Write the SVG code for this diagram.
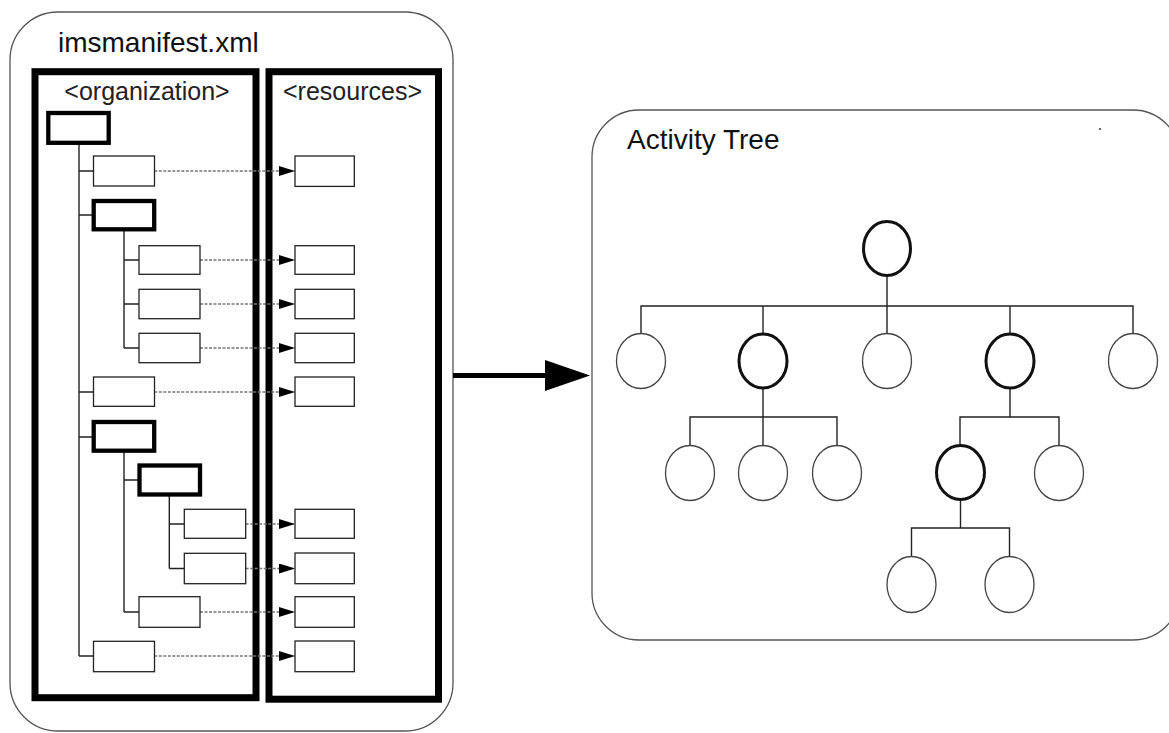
<svg xmlns="http://www.w3.org/2000/svg" width="1169" height="733" viewBox="0 0 1169 733">
<style>
  .outer{fill:#fff;stroke:#555;stroke-width:1.3}
  .panel{fill:none;stroke:#000;stroke-width:7}
  .title{font-family:"Liberation Sans",Arial,sans-serif;font-size:28px;fill:#111}
  .sub{font-family:"Liberation Sans",Arial,sans-serif;font-size:25px;fill:#222;text-anchor:middle}
  .box{fill:#fff;stroke:#222;stroke-width:1.3}
  .tbox{fill:#fff;stroke:#000;stroke-width:4.3}
  .tree{fill:none;stroke:#222;stroke-width:1.4}
  .ref{fill:none;stroke:#777;stroke-width:1.6;stroke-dasharray:3 1.5;marker-end:url(#ah)}
  .el{fill:#fff;stroke:#444;stroke-width:1.3}
  .tel{fill:#fff;stroke:#111;stroke-width:3}
</style>
<defs>
  <marker id="ah" markerUnits="userSpaceOnUse" markerWidth="16" markerHeight="10" refX="16" refY="5" orient="auto">
    <path d="M0,0 L16,5 L0,10 Z" fill="#000"/>
  </marker>
</defs>
<rect width="1169" height="733" fill="#fff"/>

<g id="manifest">
  <rect class="outer" x="10" y="12" width="443" height="719" rx="48" ry="48"/>
  <text class="title" x="58" y="52">imsmanifest.xml</text>
</g>
<g id="organization">
  <rect class="panel" x="35" y="71.7" width="221" height="626"/>
  <text class="sub" x="147" y="100">&lt;organization&gt;</text>
</g>
<g id="resources">
  <rect class="panel" x="269" y="71.7" width="169.5" height="627.5" stroke-width="7.5"/>
  <text class="sub" x="352.5" y="100">&lt;resources&gt;</text>
</g>
<g id="activity-tree">
  <rect class="outer" x="592" y="110" width="588" height="530" rx="47" ry="47"/>
  <text class="title" x="627" y="149">Activity Tree</text>
  <circle cx="1100" cy="129" r="1" fill="#333"/>
</g>

<g id="connectors">
  <!-- organization tree lines -->
  <path class="tree" d="M79,143 V656 M79,171 H93.5 M79,215 H93.7 M79,392 H93.5 M79,437 H93.7 M79,656 H93.5"/>
  <path class="tree" d="M124,229 V348 M124,260 H139 M124,304 H139 M124,348 H139"/>
  <path class="tree" d="M124,451 V612 M124,480 H139.5 M124,612 H139"/>
  <path class="tree" d="M169.3,494.5 V568.5 M169.3,524 H184.3 M169.3,568.5 H184.3"/>
  <!-- references to resources -->
  <path class="ref" d="M154.3,171 H295"/>
  <path class="ref" d="M200,260 H295"/>
  <path class="ref" d="M200,304 H295"/>
  <path class="ref" d="M200,348 H295"/>
  <path class="ref" d="M154.3,392 H295"/>
  <path class="ref" d="M245.7,524 H295"/>
  <path class="ref" d="M245.7,568.5 H295"/>
  <path class="ref" d="M200,612 H295"/>
  <path class="ref" d="M154.3,656 H295"/>
  <!-- big arrow -->
  <line x1="453" y1="375.5" x2="548" y2="375.5" stroke="#000" stroke-width="5"/>
  <polygon points="545,360 590,375.5 545,391" fill="#000"/>
  <!-- activity tree lines -->
  <path class="tree" d="M887,277 V306 M641,333 V306 H1133 V333 M763,306 V333 M887,306 V333 M1010,306 V333"/>
  <path class="tree" d="M763,389 V445 M690,445 V417 H837 V445"/>
  <path class="tree" d="M1010,389 V417 M960,444 V417 H1059 V445"/>
  <path class="tree" d="M960.5,501 V528 M911.5,556 V528 H1009.5 V556"/>
</g>

<g id="org-items">
  <rect id="org-root" class="tbox" x="48.3" y="113" width="60.4" height="29.8" stroke-width="4.5"/>
  <rect id="org-1" class="box" x="93.5" y="156" width="61" height="30"/>
  <rect id="org-2" class="tbox" x="93.7" y="201" width="60.5" height="28.3"/>
  <rect id="org-2-1" class="box" x="139" y="245.7" width="61" height="28.6"/>
  <rect id="org-2-2" class="box" x="139" y="289.3" width="61" height="29.4"/>
  <rect id="org-2-3" class="box" x="139" y="333.3" width="61" height="29.4"/>
  <rect id="org-3" class="box" x="93.5" y="377" width="61" height="29.3"/>
  <rect id="org-4" class="tbox" x="93.7" y="422" width="60.5" height="28.7"/>
  <rect id="org-4-1" class="tbox" x="139.5" y="465.5" width="60.5" height="29" stroke-width="4.5"/>
  <rect id="org-4-1-1" class="box" x="184.3" y="509.3" width="61.4" height="29"/>
  <rect id="org-4-1-2" class="box" x="184.3" y="553.3" width="61.4" height="30.4"/>
  <rect id="org-4-2" class="box" x="139" y="596.7" width="61" height="30.6"/>
  <rect id="org-5" class="box" x="93.5" y="641.3" width="61" height="30.4"/>
</g>

<g id="resource-items">
  <rect id="res-1" class="box" x="295" y="156" width="59.3" height="30.4"/>
  <rect id="res-2" class="box" x="295" y="245.7" width="59.3" height="28.6"/>
  <rect id="res-3" class="box" x="295" y="289.3" width="59.3" height="29.4"/>
  <rect id="res-4" class="box" x="295" y="333.3" width="59.3" height="29.4"/>
  <rect id="res-5" class="box" x="295" y="377" width="59.3" height="29.3"/>
  <rect id="res-6" class="box" x="295" y="509.3" width="59.3" height="29"/>
  <rect id="res-7" class="box" x="295" y="553" width="59.3" height="30.7"/>
  <rect id="res-8" class="box" x="295" y="596.7" width="59.3" height="30.6"/>
  <rect id="res-9" class="box" x="295" y="641" width="59.3" height="30.7"/>
</g>

<g id="activities">
  <ellipse id="act-root" class="tel" cx="887" cy="248.5" rx="23.5" ry="27"/>
  <ellipse id="act-1" class="el" cx="641" cy="361" rx="24.5" ry="27.5"/>
  <ellipse id="act-2" class="tel" cx="763" cy="361" rx="24" ry="27"/>
  <ellipse id="act-3" class="el" cx="887" cy="361" rx="24.5" ry="27.5"/>
  <ellipse id="act-4" class="tel" cx="1010" cy="361" rx="24" ry="27"/>
  <ellipse id="act-5" class="el" cx="1133" cy="361" rx="24.5" ry="27.5"/>
  <ellipse id="act-2-1" class="el" cx="690" cy="473" rx="24.5" ry="27.5"/>
  <ellipse id="act-2-2" class="el" cx="763" cy="473" rx="24.5" ry="27.5"/>
  <ellipse id="act-2-3" class="el" cx="837" cy="473" rx="24.5" ry="27.5"/>
  <ellipse id="act-4-1" class="tel" cx="960.5" cy="472.5" rx="24" ry="27"/>
  <ellipse id="act-4-2" class="el" cx="1059" cy="473" rx="24.5" ry="27.5"/>
  <ellipse id="act-4-1-1" class="el" cx="911.5" cy="584.5" rx="24.5" ry="28"/>
  <ellipse id="act-4-1-2" class="el" cx="1009.5" cy="584.5" rx="24.5" ry="28"/>
</g>
</svg>
